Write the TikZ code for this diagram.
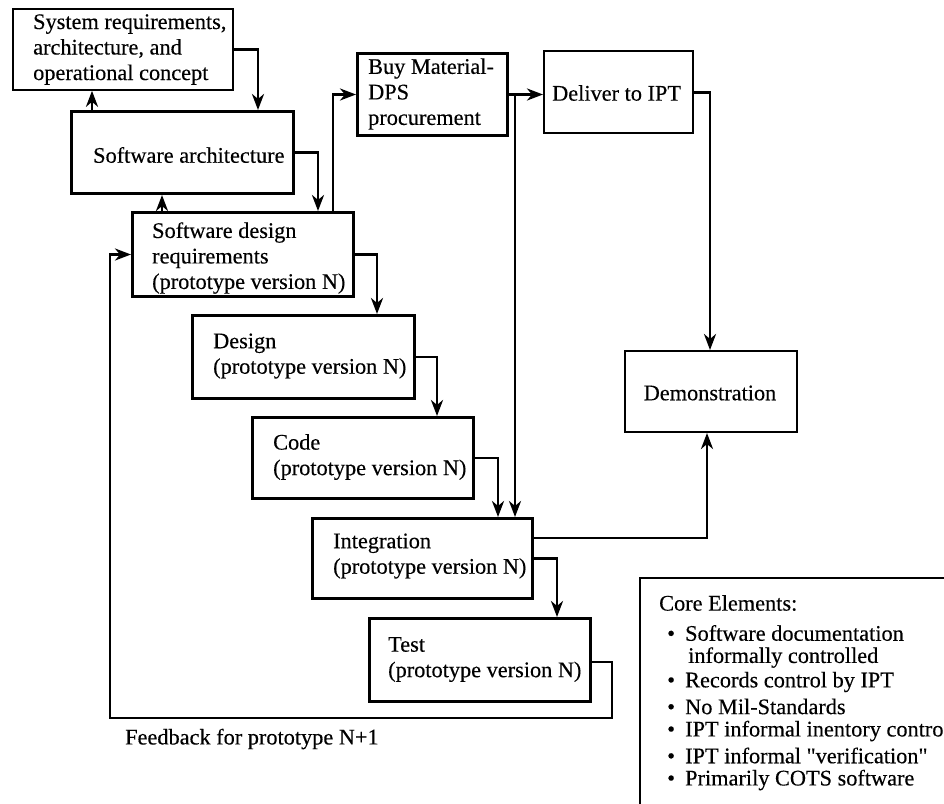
\documentclass[tikz,border=0pt]{standalone}
\usepackage{fontspec}
\setmainfont{Liberation Serif}[FakeBold=0.3]
\newfontfamily\qfont{Liberation Serif}[Ligatures=TeXOff,FakeBold=0.3]
\usetikzlibrary{arrows.meta}
\begin{document}
\begin{tikzpicture}[x=1pt,y=-1pt,
  box/.style={draw, line width=3pt, inner sep=0pt, anchor=north west},
  thinbox/.style={box, line width=1.8pt},
  midbox/.style={box, line width=2.4pt},
  txt/.style={font=\fontsize{22.3}{25.5}\selectfont, inner sep=0pt, align=left, anchor=west},
  arr/.style={line width=2.8pt, line join=miter, -{Stealth[length=16pt,width=12pt,inset=5pt]}}]
\useasboundingbox (0,0) rectangle (944,803);
\clip (0,0) rectangle (944,803);

% boxes
\node[thinbox, minimum width=220pt, minimum height=81pt] (sys) at (12,8) {};
\node[box, minimum width=222pt, minimum height=82pt] (sa) at (70,110) {};
\node[box, minimum width=221pt, minimum height=84pt] (sdr) at (131,211) {};
\node[box, minimum width=222pt, minimum height=83pt] (design) at (191,314) {};
\node[box, minimum width=221pt, minimum height=81pt] (code) at (251,416) {};
\node[box, minimum width=220pt, minimum height=80pt] (int) at (311,517) {};
\node[box, minimum width=221pt, minimum height=83pt] (test) at (368,617) {};
\node[box, minimum width=150pt, minimum height=82pt] (buy) at (356,52) {};
\node[midbox, minimum width=149pt, minimum height=82pt] (deliver) at (543,50) {};
\node[thinbox, line width=2pt, minimum width=172pt, minimum height=81pt] (demo) at (624,350) {};
\node[midbox, minimum width=400pt, minimum height=300pt] (core) at (639,577) {};

% texts
\node[txt] (sysT) at (33,49.5) {System requirements,\\architecture, and\\operational concept};
\node[txt] (saT) at (93,155) {Software architecture};
\node[txt] (sdrT) at (152,258) {Software design\\requirements\\(prototype version N)};
\node[txt] (designT) at (213,356) {Design\\(prototype version N)};
\node[txt] (codeT) at (273,457) {Code\\(prototype version N)};
\node[txt] (intT) at (333,556) {Integration\\(prototype version N)};
\node[txt] (testT) at (388,659.5) {Test\\(prototype version N)};
\node[txt] (buyT) at (368,94) {Buy Material-\\DPS\\procurement};
\node[txt] (deliverT) at (552,93) {Deliver to IPT};
\node[txt, anchor=center] (demoT) at (710,393) {Demonstration};
\node[txt] (fbT) at (125,739) {Feedback for prototype N+1};

\node[txt] (coreT) at (659,603) {Core Elements:};
\node[txt] (c1) at (667,633) {\makebox[18pt][l]{\textbullet}Software documentation};
\node[txt] (c1b) at (688,657.5) {informally controlled};
\node[txt] (c2) at (667,682) {\makebox[18pt][l]{\textbullet}Records control by IPT};
\node[txt] (c3) at (667,706.5) {\makebox[18pt][l]{\textbullet}No Mil-Standards};
\node[txt] (c4) at (667,731) {\makebox[18pt][l]{\textbullet}IPT informal inentory contro};
\node[txt] (c5) at (667,755.5) {\makebox[18pt][l]{\textbullet}IPT informal {\qfont"}verification{\qfont"}};
\node[txt] (c6) at (667,780) {\makebox[18pt][l]{\textbullet}Primarily COTS software};

% helper coordinates
\coordinate (vx1) at (258,0);
\coordinate (vx2) at (92,0);
\coordinate (vx3) at (318,0);
\coordinate (vx4) at (162,0);
\coordinate (vx5) at (333,0);
\coordinate (vx6) at (377,0);
\coordinate (vx7) at (437,0);
\coordinate (vx8) at (498,0);
\coordinate (vx9) at (515,0);
\coordinate (vx10) at (710,0);
\coordinate (vx11) at (707,0);
\coordinate (vx12) at (557,0);
\coordinate (hy1) at (0,538);
\coordinate (hy3) at (0,662);
\coordinate (fbR) at (612,718);
\coordinate (fbL) at (110,718);

% connectors
\draw[arr] (sys.east) -| (sa.north -| vx1);
\draw[arr] (sa.north -| vx2) -- (sys.south -| vx2);
\draw[arr] (sa.east) -| (sdr.north -| vx3);
\draw[arr] (sdr.north -| vx4) -- (sa.south -| vx4);
\draw[arr] (sdr.north -| vx5) |- (buy.west);
\draw[arr] (sdr.east) -| (design.north -| vx6);
\draw[arr] (design.east) -| (code.north -| vx7);
\draw[arr] (code.east) -| (int.north -| vx8);
\draw[arr] (buy.east) -- (buy.east -| deliver.west);
\draw[arr] (buy.east -| vx9) -- (int.north -| vx9);
\draw[arr] (deliver.east) -| (demo.north -| vx10);
\draw[arr] (int.east |- hy1) -| (demo.south -| vx11);
\draw[arr] (int.east) -| (test.north -| vx12);
\draw[arr] (test.east |- hy3) -| (fbR) -- (fbL) |- (sdr.west);
\end{tikzpicture}
\end{document}
